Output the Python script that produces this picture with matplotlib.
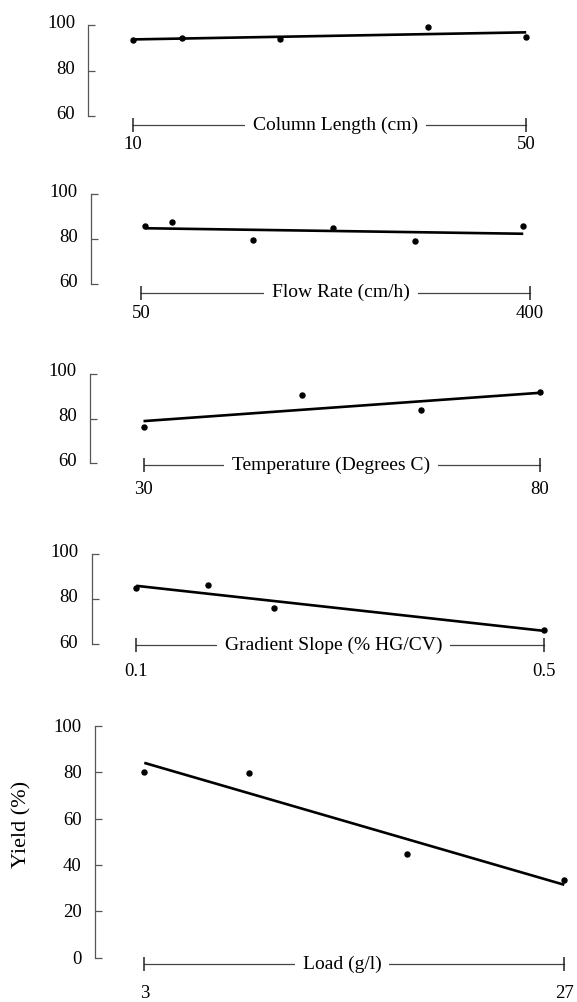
"""
Yield vs. process parameters: five stacked panels with linear fits
"""

import matplotlib
matplotlib.use('Agg')
import matplotlib.pyplot as plt
import matplotlib.transforms as mtransforms
import numpy as np

plt.rcParams['font.family'] = ['Liberation Serif', 'DejaVu Serif']
plt.rcParams['font.size'] = 13

# Data
col_len = [10, 15, 25, 40, 50]
col_yield = [93.3, 94.4, 93.7, 99.0, 94.9]

flow = [54, 78, 151, 223, 297, 394]
flow_yield = [85.9, 87.8, 79.6, 84.9, 79.2, 85.8]

temp = [30, 50, 65, 80]
temp_yield = [76.2, 90.4, 83.7, 91.7]

grad = [0.10, 0.17, 0.235, 0.50]
grad_yield = [85.1, 86.3, 76.0, 66.5]

load = [3, 9, 18, 27]
load_yield = [80.0, 79.7, 44.6, 33.4]

x_names = ['Column Length (cm)', 'Flow Rate (cm/h)', 'Temperature (Degrees C)',
           'Gradient Slope (% HG/CV)', 'Load (g/l)']
x_ends = [(10, 50), (50, 400), (30, 80), (0.1, 0.5), (3, 27)]
x_end_labels = [('10', '50'), ('50', '400'), ('30', '80'), ('0.1', '0.5'), ('3', '27')]
y_ticks = [[60, 80, 100]] * 4 + [[0, 20, 40, 60, 80, 100]]

panels = [(col_len, col_yield), (flow, flow_yield), (temp, temp_yield),
          (grad, grad_yield), (load, load_yield)]

# Layout in pixels: spine x, top, bottom, bracket y, bracket x0, x1,
# label centre x, end-label centre y, y tick label lift
layout = [
    (88.3, 25.0, 116.0, 125.3, 132.5, 526.2, 335.6, 146.7, 3.3),
    (90.9, 194.3, 284.3, 292.7, 140.9, 529.9, 340.8, 315.0, 3.5),
    (90.2, 373.7, 463.5, 465.0, 143.5, 539.8, 331.0, 491.0, 4.0),
    (91.5, 554.3, 644.5, 645.0, 136.2, 543.9, 333.4, 673.3, 3.5),
    (95.0, 726.0, 957.7, 964.3, 144.3, 564.3, 341.9, 995.0, 0.5),
]

W, H = 577, 1002
fig = plt.figure(figsize=(W / 100, H / 100), dpi=100)
fig.patch.set_facecolor('white')

AXIS_GREY = '#555555'

for i, ((xs, ys), lay) in enumerate(zip(panels, layout)):
    sx, top, bot, by, b0, b1, lx, ly, dy = lay
    t0, t1 = x_ends[i]
    ax = fig.add_axes([sx / W, 1 - bot / H, (b1 - sx) / W, (bot - top) / H])

    # x scale such that t0 sits at the bracket start
    per_px = (t1 - t0) / (b1 - b0)
    ax.set_xlim(t0 - (b0 - sx) * per_px, t1)
    yt = y_ticks[i]
    ax.set_ylim(yt[0], yt[-1])

    for s in ['top', 'right', 'bottom']:
        ax.spines[s].set_visible(False)
    ax.spines['left'].set_color(AXIS_GREY)
    ax.spines['left'].set_linewidth(0.9)

    ax.set_yticks(yt)
    ax.tick_params(axis='y', direction='in', length=5, width=0.9,
                   color=AXIS_GREY, pad=9.5, labelsize=13.5)
    lift = mtransforms.ScaledTranslation(0, dy / 100, fig.dpi_scale_trans)
    for lab in ax.get_yticklabels():
        lab.set_transform(lab.get_transform() + lift)

    # end values of the x range
    ax.set_xticks([t0, t1])
    ax.set_xticklabels(x_end_labels[i])
    ax.tick_params(axis='x', length=0, labelsize=13.5,
                   pad=(ly - bot - 10.5) * 0.72)

    # data and linear fit
    ax.plot(xs, ys, 'o', color='black', markersize=3.6, clip_on=False, zorder=4)
    k, c = np.polyfit(xs, ys, 1)
    fx = np.array([min(xs), max(xs)])
    ax.plot(fx, k * fx + c, color='black', linewidth=1.9, clip_on=False, zorder=3,
            solid_capstyle='butt')

    # bracket with axis name
    tr = mtransforms.blended_transform_factory(ax.transData, fig.transFigure)
    yb = 1 - by / H
    ax.plot([t0, t1], [yb, yb], color='#444444', linewidth=0.9, transform=tr,
            clip_on=False, zorder=2)
    ax.plot([t0, t1], [yb, yb], linestyle='none', marker='|', markersize=9.5,
            markeredgewidth=1.1, color='#222222', transform=tr, clip_on=False)
    ax.text(t0 + (lx - b0) * per_px, yb, x_names[i], transform=tr,
            ha='center', va='center', fontsize=14, zorder=5,
            bbox=dict(boxstyle='square,pad=0.4', facecolor='white',
                      edgecolor='none'))

fig.text(22 / W, 1 - 824 / H, 'Yield (%)', rotation=90, ha='center', va='center',
         fontsize=16)

plt.savefig('out.png', dpi=100, facecolor='white')
plt.close()
